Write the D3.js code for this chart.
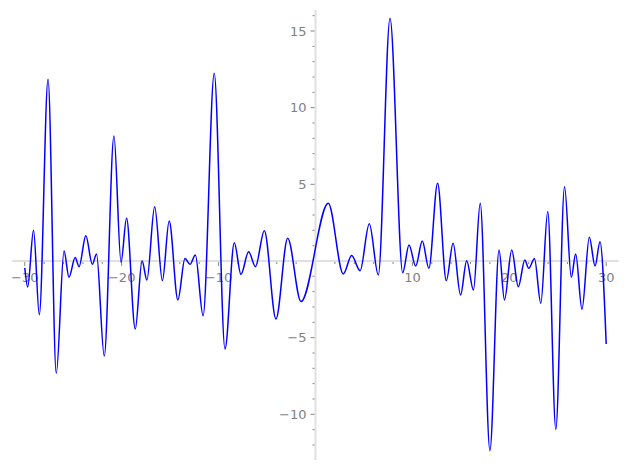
<!DOCTYPE html>
<html>
<head>
<meta charset="utf-8">
<script src="https://cdn.jsdelivr.net/npm/d3@7"></script>
<style>
  body { margin: 0; background: #fff; }
  .tick-label { font-family: "DejaVu Sans", sans-serif; font-size: 13px; fill: #808080; }
</style>
</head>
<body>
<div id="graph"></div>
<script>
// extrema of the curve
var curve_x = [-30, -29.7, -29.1, -28.5, -27.6, -26.75, -25.95, -25.44, -24.8, -24.4,
    -23.7, -23.03, -22.6, -21.8, -20.8, -20.07, -19.5, -18.6, -17.9, -17.4,
    -16.6, -15.8, -15.1, -14.2, -13.47, -12.95, -12.4, -11.6, -10.45, -9.34,
    -8.38, -7.69, -6.9, -6.2, -5.28, -4.08, -2.87, -1.5, 1.32, 2.87,
    3.73, 4.6, 5.55, 6.48, 7.69, 9.0, 9.65, 10.34, 11.02, 11.7,
    12.6, 13.5, 14.2, 14.97, 15.6, 16.3, 17.0, 18.0, 18.94, 19.5,
    20.25, 20.93, 21.6, 22.0, 22.6, 23.25, 23.97, 24.8, 25.7, 26.4,
    26.85, 27.5, 28.26, 28.85, 29.36, 30];
var curve_y = [-0.45, -1.7, 2.0, -3.5, 11.85, -7.33, 0.65, -1.06, 0.22, -0.37,
    1.65, -0.22, 0.46, -6.2, 8.15, -0.08, 2.78, -4.44, 0.02, -1.24,
    3.54, -1.28, 2.61, -2.54, 0.17, -0.22, 0.39, -3.57, 12.24, -5.74,
    1.19, -0.87, 0.61, -0.37, 1.98, -3.78, 1.48, -2.65, 3.76, -0.85,
    0.35, -0.63, 2.43, -0.91, 15.83, -0.76, 1.04, -0.33, 1.3, -0.48,
    5.07, -1.28, 1.15, -2.22, 0.02, -1.89, 3.76, -12.37, 0.72, -2.54,
    0.72, -1.68, 0.07, -0.48, 0.15, -2.76, 3.22, -10.98, 4.85, -1.06,
    0.46, -3.15, 1.55, -0.33, 1.26, -5.41];

var x_major = [-30, -20, -10, 10, 20, 30];
var y_major = [-10, -5, 5, 10, 15];
var x_minor = d3.range(-30, 31, 2);
var y_minor = d3.range(-12, 17, 1);

const W = 627, H = 470;

var svg = d3.select("#graph")
    .append("svg")
    .attr("width", W)
    .attr("height", H);

var xScale = d3.scaleLinear().domain([-31.3, 31.3]).range([12.2, 618.8]);
var yScale = d3.scaleLinear().domain([-12.98, 16.37]).range([460, 10]);

var x0 = xScale(0), y0 = yScale(0);

// axis lines
svg.append("line")
    .attr("x1", xScale.range()[0]).attr("x2", xScale.range()[1])
    .attr("y1", y0).attr("y2", y0)
    .style("stroke", "#e0e0e0").style("stroke-width", 2);
svg.append("line")
    .attr("x1", x0).attr("x2", x0)
    .attr("y1", yScale.range()[1]).attr("y2", yScale.range()[0])
    .style("stroke", "#e0e0e0").style("stroke-width", 2);

// minor ticks
svg.selectAll("line.xminor")
    .data(x_minor.filter(d => d != 0))
    .enter().append("line")
    .attr("class", "xminor")
    .attr("x1", d => xScale(d)).attr("x2", d => xScale(d))
    .attr("y1", y0 + 1).attr("y2", d => y0 + (x_major.indexOf(d) >= 0 ? 5 : 3))
    .style("stroke", "#666").style("stroke-width", 0.8);
svg.selectAll("line.yminor")
    .data(y_minor.filter(d => d != 0))
    .enter().append("line")
    .attr("class", "yminor")
    .attr("y1", d => yScale(d)).attr("y2", d => yScale(d))
    .attr("x1", x0 - 1).attr("x2", d => x0 - (y_major.indexOf(d) >= 0 ? 5 : 3))
    .style("stroke", "#666").style("stroke-width", 0.8);

// tick labels
svg.selectAll("text.xlab")
    .data(x_major)
    .enter().append("text")
    .attr("class", "tick-label xlab")
    .attr("x", d => xScale(d))
    .attr("y", y0 + 21)
    .attr("text-anchor", "middle")
    .text(d => String(d).replace("-", "\u2212"));
svg.selectAll("text.ylab")
    .data(y_major)
    .enter().append("text")
    .attr("class", "tick-label ylab")
    .attr("x", x0 - 9)
    .attr("y", d => yScale(d))
    .attr("dy", "0.36em")
    .attr("text-anchor", "end")
    .text(d => String(d).replace("-", "\u2212"));

// the curve
var line = d3.line()
    .x((d, i) => xScale(curve_x[i]))
    .y(d => yScale(d))
    .curve(d3.curveMonotoneX);

svg.append("path")
    .datum(curve_y)
    .attr("d", line)
    .style("fill", "none")
    .style("stroke", "#0000ff")
    .style("stroke-width", 1.5);
</script>
</body>
</html>
